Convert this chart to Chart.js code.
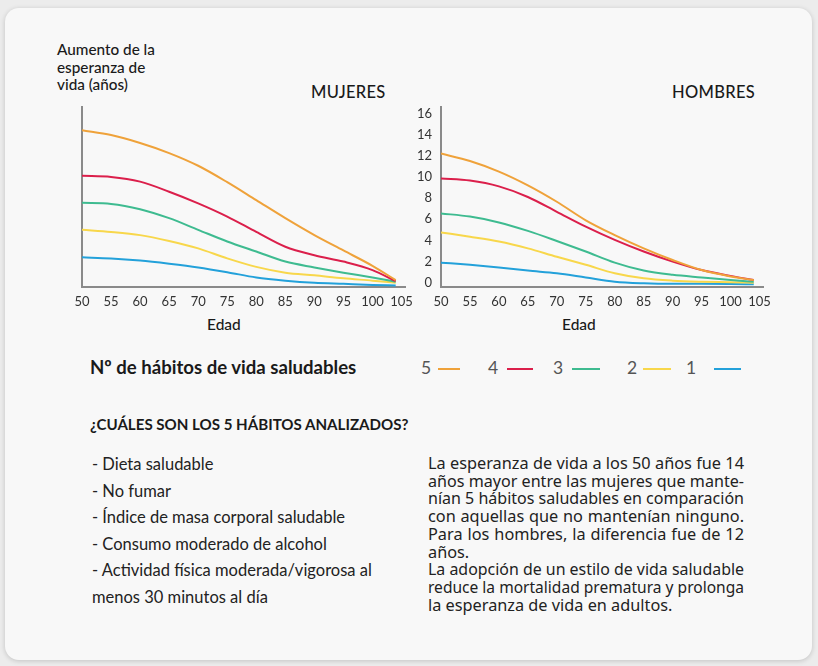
<!DOCTYPE html>
<html>
<head>
<meta charset="utf-8">
<script src="https://cdn.jsdelivr.net/npm/chart.js@4.4.1/dist/chart.umd.min.js"></script>
<style>
  html, body { margin:0; padding:0; }
  body { width:818px; height:666px; background:#ececec; position:relative; overflow:hidden; font-family: Lato, "Noto Sans", sans-serif; color:#1a1a1a; }
  #card { position:absolute; left:5px; top:8px; width:807px; height:652px; background:#f8f8f8; border-radius:14px; box-shadow:0 1px 5px rgba(0,0,0,0.18); }
  .abs { position:absolute; white-space:nowrap; }
  #ytitle { left:57px; top:41px; font-size:15.3px; line-height:17.5px; font-weight:500; }
  .gtitle { top:82px; font-size:16.5px; font-weight:500; letter-spacing:0.3px; }
  .edad { top:315px; font-size:15.5px; font-weight:500; }
  canvas { position:absolute; }
  #legTitle { left:90px; top:356px; font-size:18.6px; font-weight:700; }
  #legend { left:0; top:357px; font-size:17.5px; color:#555; }
  #legend span.num { position:absolute; top:0; }
  #legend span.ln { position:absolute; top:11px; height:2px; }
  #q { left:90px; top:415px; font-size:15.1px; font-weight:700; }
  #list { left:92px; top:451px; font-size:16.5px; line-height:26.5px; color:#222; }
  #para { position:absolute; left:428px; top:455px; width:316px; font-family:"Noto Sans", sans-serif; font-size:16.3px; line-height:17.7px; color:#222; }
  #para div { white-space:nowrap; }
  #para div.j { text-align:justify; text-align-last:justify; }
</style>
</head>
<body>
<div id="card"></div>
<div id="ytitle" class="abs">Aumento de la<br>esperanza de<br>vida (años)</div>
<div class="abs gtitle" style="left:311px">MUJERES</div>
<div class="abs gtitle" style="left:672px">HOMBRES</div>
<div class="abs edad" style="left:207px">Edad</div>
<div class="abs edad" style="left:562px">Edad</div>
<canvas id="cW" width="380" height="218" style="left:40px;top:97px;width:380px;height:218px"></canvas>
<canvas id="cM" width="378" height="218" style="left:400px;top:97px;width:378px;height:218px"></canvas>
<div id="legTitle" class="abs">Nº de hábitos de vida saludables</div>
<div id="legend" class="abs"></div>
<div id="q" class="abs">¿CUÁLES SON LOS 5 HÁBITOS ANALIZADOS?</div>
<div id="list" class="abs">- Dieta saludable<br>- No fumar<br>- Índice de masa corporal saludable<br>- Consumo moderado de alcohol<br>- Actividad física moderada/vigorosa al<br>menos 30 minutos al día</div>
<div id="para">
  <div class="j">La esperanza de vida a los 50 años fue 14</div>
  <div class="j">años mayor entre las mujeres que mante-</div>
  <div class="j">nían 5 hábitos saludables en comparación</div>
  <div class="j">con aquellas que no mantenían ninguno.</div>
  <div class="j">Para los hombres, la diferencia fue de 12</div>
  <div>años.</div>
  <div class="j">La adopción de un estilo de vida saludable</div>
  <div class="j">reduce la mortalidad prematura y prolonga</div>
  <div>la esperanza de vida en adultos.</div>
</div>
<script>
// ---- data ----
const ages = [50, 55, 60, 65, 70, 75, 80, 85, 90, 95, 100, 104];
const habitLabels = ['5', '4', '3', '2', '1'];
const seriesColors = ['#EFA23A', '#DB1F4B', '#3EBB90', '#F8D74B', '#23A1DA'];

const women5 = [14.4, 13.95, 13.2, 12.25, 11.05, 9.5, 7.8, 6.1, 4.5, 3.05, 1.6, 0.25];
const women4 = [10.1, 10.0, 9.55, 8.6, 7.5, 6.25, 4.8, 3.4, 2.6, 2.0, 1.2, 0.15];
const women3 = [7.55, 7.45, 6.95, 6.1, 5.0, 3.9, 2.95, 2.0, 1.45, 0.95, 0.5, 0.1];
const women2 = [5.0, 4.8, 4.5, 3.95, 3.25, 2.3, 1.5, 0.95, 0.7, 0.42, 0.2, 0.0];
const women1 = [2.4, 2.3, 2.1, 1.8, 1.45, 1.0, 0.5, 0.2, 0.0, -0.1, -0.2, -0.25];

const men5 = [12.2, 11.5, 10.5, 9.2, 7.65, 5.9, 4.5, 3.25, 2.15, 1.2, 0.6, 0.26];
const men4 = [9.85, 9.65, 9.1, 8.1, 6.7, 5.3, 4.05, 2.95, 2.0, 1.2, 0.65, 0.26];
const men3 = [6.55, 6.25, 5.7, 4.9, 3.95, 2.95, 1.9, 1.15, 0.75, 0.5, 0.26, 0.1];
const men2 = [4.75, 4.35, 3.9, 3.25, 2.45, 1.7, 0.9, 0.42, 0.2, 0.1, 0.05, 0.0];
const men1 = [1.9, 1.7, 1.45, 1.15, 0.9, 0.5, 0.1, -0.05, -0.1, -0.1, -0.12, -0.15];

const xTicks = [50, 55, 60, 65, 70, 75, 80, 85, 90, 95, 100, 105];
const yTicks = [0, 2, 4, 6, 8, 10, 12, 14, 16];

// ---- legend (layout positions only) ----
const legNumX = [421, 488, 553, 627, 686];
const legLineX = [438, 507, 572, 643, 714];
const legLineW = [22, 26, 28, 28, 27];
const leg = document.getElementById('legend');
habitLabels.forEach((h, i) => {
  const n = document.createElement('span');
  n.className = 'num'; n.textContent = h; n.style.left = legNumX[i] + 'px';
  leg.appendChild(n);
  const l = document.createElement('span');
  l.className = 'ln'; l.style.left = legLineX[i] + 'px'; l.style.width = legLineW[i] + 'px';
  l.style.background = seriesColors[i];
  leg.appendChild(l);
});

// ---- paragraph fit ----
document.querySelectorAll('#para div').forEach(d => {
  const w = 316;
  const r = document.createRange(); r.selectNodeContents(d);
  const nat = r.getBoundingClientRect().width;
  if (nat > w) { d.style.transformOrigin = '0 0'; d.style.transform = 'scaleX(' + (w / nat) + ')'; d.style.width = nat + 'px'; }
});

function makeChart(id, series, showY, yw) {
  const datasets = series.map((vals, i) => ({
    label: habitLabels[i],
    data: ages.map((a, k) => ({ x: a, y: vals[k] })),
    borderColor: seriesColors[i],
    borderWidth: 2,
    pointRadius: 0,
    fill: false,
    cubicInterpolationMode: 'monotone'
  }));
  new Chart(document.getElementById(id), {
    type: 'line',
    data: { datasets },
    options: {
      responsive: false,
      animation: false,
      layout: { padding: { top: 10, right: 15, left: 0, bottom: 0 } },
      plugins: { legend: { display: false }, tooltip: { enabled: false } },
      scales: {
        x: {
          type: 'linear', min: 50, max: 105.6,
          grid: { display: false, drawTicks: false },
          border: { display: true, color: '#8a8a8a', width: 2 },
          afterBuildTicks: s => { s.ticks = xTicks.map(v => ({ value: v })); },
          afterFit: s => { s.height = 28; },
          ticks: { padding: 7, color: '#333', font: { family: 'Lato', size: 13 }, maxRotation: 0, autoSkip: false }
        },
        y: {
          type: 'linear', min: -0.4, max: 16.6,
          grid: { display: false, drawTicks: false },
          border: { display: true, color: '#8a8a8a', width: 2 },
          afterBuildTicks: s => { s.ticks = yTicks.map(v => ({ value: v })); },
          afterFit: s => { s.width = yw; s.paddingTop = 0; s.paddingBottom = 0; },
          ticks: { display: showY, padding: 9, color: '#333', font: { family: 'Lato', size: 13 } }
        }
      }
    }
  });
}
makeChart('cW', [women5, women4, women3, women2, women1], false, 42);
makeChart('cM', [men5, men4, men3, men2, men1], true, 41);
</script>
</body>
</html>
